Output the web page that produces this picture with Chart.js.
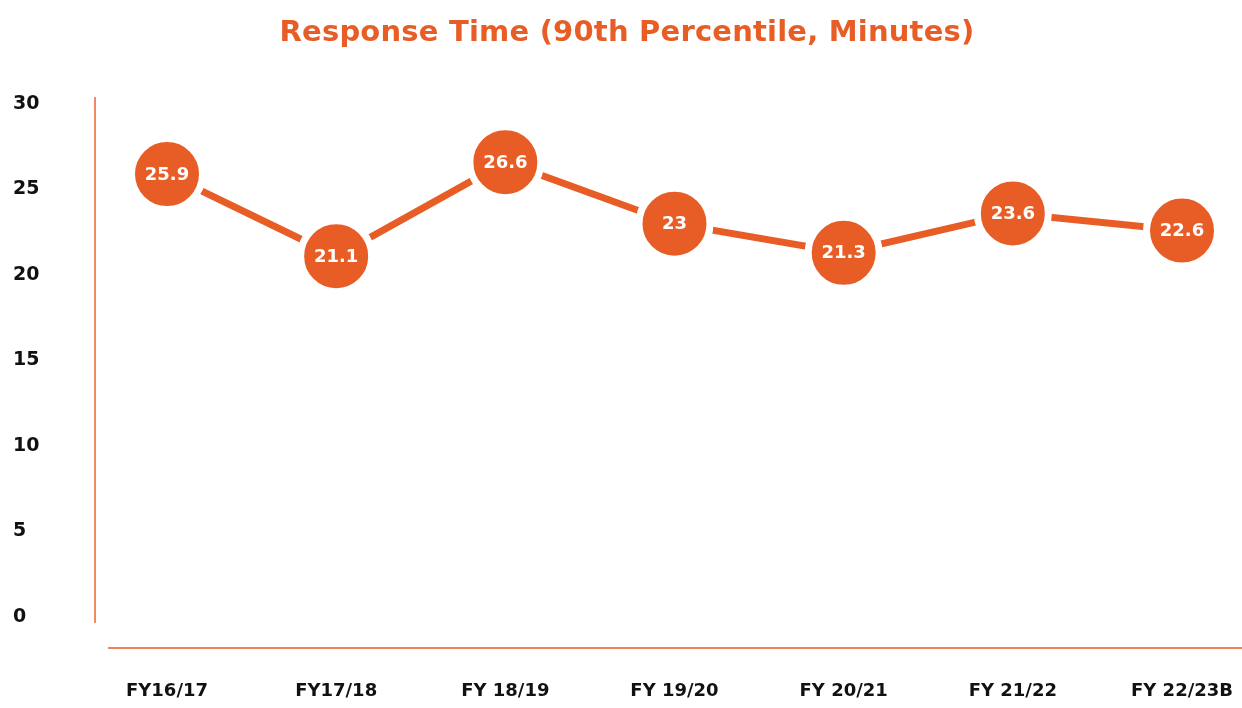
<!DOCTYPE html>
<html>
<head>
<meta charset="utf-8">
<script src="https://cdn.jsdelivr.net/npm/chart.js@4/dist/chart.umd.min.js"></script>
<style>
  html, body { margin: 0; padding: 0; background: #ffffff; }
  #wrap { width: 1242px; height: 708px; position: relative; }
</style>
</head>
<body>
<div id="wrap"><canvas id="c" width="1242" height="708"></canvas></div>
<script>
const categories = ["FY16/17", "FY17/18", "FY 18/19", "FY 19/20", "FY 20/21", "FY 21/22", "FY 22/23B"];
const responseTime = [25.9, 21.1, 26.6, 23, 21.3, 23.6, 22.6];
const yTicks = [0, 5, 10, 15, 20, 25, 30];
const titleText = "Response Time (90th Percentile, Minutes)";

const ORANGE = "#E85D25";
const FONT = "'DejaVu Sans', sans-serif";

const axisLines = {
  id: "axisLines",
  beforeDatasetsDraw(chart) {
    const { ctx, chartArea, scales } = chart;
    const y = scales.y;
    ctx.save();
    ctx.strokeStyle = "#F08A62";
    ctx.lineWidth = 2;
    ctx.beginPath();
    ctx.moveTo(chartArea.left - 72, y.getPixelForValue(30) - 7);
    ctx.lineTo(chartArea.left - 72, y.getPixelForValue(0) + 6);
    ctx.stroke();
    ctx.strokeStyle = ORANGE;
    ctx.lineWidth = 1.6;
    ctx.beginPath();
    ctx.moveTo(chartArea.left - 59, y.getPixelForValue(0) + 31);
    ctx.lineTo(chart.width, y.getPixelForValue(0) + 31);
    ctx.stroke();
    ctx.restore();
  }
};

const titleDraw = {
  id: "titleDraw",
  afterDraw(chart) {
    const { ctx } = chart;
    ctx.save();
    ctx.fillStyle = ORANGE;
    ctx.font = "bold 29px " + FONT;
    ctx.textAlign = "center";
    ctx.textBaseline = "middle";
    try { ctx.letterSpacing = "0.2px"; } catch (e) {}
    ctx.fillText(titleText, 627, 33);
    ctx.restore();
  }
};

const pointLabels = {
  id: "pointLabels",
  afterDatasetsDraw(chart) {
    const { ctx } = chart;
    const meta = chart.getDatasetMeta(0);
    ctx.save();
    ctx.fillStyle = "#ffffff";
    ctx.font = "bold 18px " + FONT;
    ctx.textAlign = "center";
    ctx.textBaseline = "middle";
    meta.data.forEach((pt, i) => {
      ctx.fillText(String(responseTime[i]), pt.x, pt.y + 1);
    });
    ctx.restore();
  }
};

new Chart(document.getElementById("c"), {
  type: "line",
  data: {
    labels: categories,
    datasets: [{
      data: responseTime,
      borderColor: ORANGE,
      borderWidth: 7,
      backgroundColor: ORANGE,
      pointBackgroundColor: ORANGE,
      pointBorderColor: "#ffffff",
      pointBorderWidth: 7,
      pointRadius: 35.5,
      pointHoverRadius: 35.5,
      tension: 0,
      clip: false
    }]
  },
  options: {
    responsive: false,
    animation: false,
    events: [],
    layout: { padding: { top: 104, left: 13, right: 60, bottom: 4 } },
    plugins: {
      legend: { display: false },
      tooltip: { enabled: false },
      title: { display: false }
    },
    scales: {
      x: {
        type: "category",
        offset: false,
        grid: { display: false, drawTicks: false },
        border: { display: false },
        afterFit(scale) {
          scale.height = 87;
          scale.paddingLeft = 0;
          scale.paddingRight = 0;
        },
        ticks: {
          color: "#111111",
          font: { family: FONT, size: 18, weight: "bold" },
          padding: 64,
          maxRotation: 0,
          autoSkip: false
        }
      },
      y: {
        min: 0,
        max: 30,
        afterBuildTicks(scale) { scale.ticks = yTicks.map(v => ({ value: v })); },
        afterFit(scale) { scale.width = 154; scale.paddingTop = 0; scale.paddingBottom = 0; },
        grid: { display: false, drawTicks: false },
        border: { display: false },
        ticks: {
          color: "#111111",
          crossAlign: "far",
          font: { family: FONT, size: 19, weight: "bold" }
        }
      }
    }
  },
  plugins: [axisLines, pointLabels, titleDraw]
});
</script>
</body>
</html>
